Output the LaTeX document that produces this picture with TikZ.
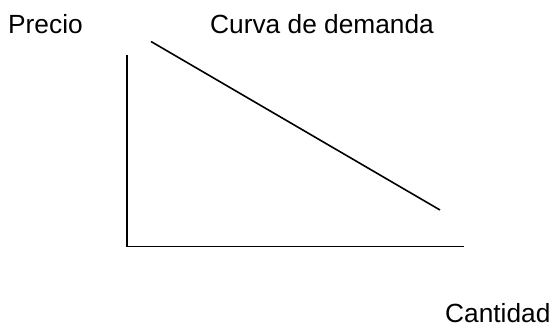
\documentclass[tikz,border=0pt]{standalone}
\usepackage{fontspec}
\setmainfont{Liberation Sans}
\begin{document}
\begin{tikzpicture}[x=1pt,y=-1pt,
  lbl/.style={anchor=base west,inner sep=0pt,font=\fontsize{26.3}{30}\selectfont},
  ln/.style={line width=1.6pt}]
\useasboundingbox (0,0) rectangle (552,327);
\node[lbl] (precio) at (8,33) {Precio};
\node[lbl] (curva) at (210,33) {Curva de demanda};
\node[lbl] (cant) at (445,322) {Cantidad};
\coordinate (top) at (127,55);
\coordinate (orig) at (127,246.5);
\coordinate (xend) at (464,246.5);
\coordinate (d1) at (151,41.5);
\coordinate (d2) at (440,210);
\draw[ln] (top) -- (orig) -- (xend);
\draw[ln] (d1) -- (d2);
\end{tikzpicture}
\end{document}
